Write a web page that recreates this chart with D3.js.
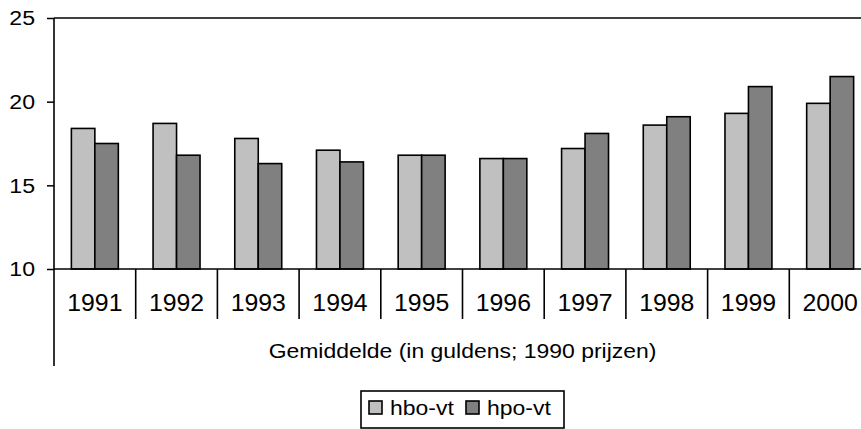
<!DOCTYPE html>
<html>
<head>
<meta charset="utf-8">
<script src="https://cdn.jsdelivr.net/npm/d3@7"></script>
<style>
  body { margin: 0; background: #fff; }
  svg { display: block; font-family: "Liberation Sans", Arial, sans-serif; }
  .axis path { display: none; }
  .axis line { stroke: #000; stroke-width: 1.5; }
  .axis text { fill: #000; }
</style>
</head>
<body>
<div id="chart"></div>
<script>
// chart values
var years = ["1991", "1992", "1993", "1994", "1995", "1996", "1997", "1998", "1999", "2000"];
var seriesNames = ["hbo-vt", "hpo-vt"];
var hboValues = [18.4, 18.7, 17.8, 17.1, 16.8, 16.6, 17.2, 18.6, 19.3, 19.9];
var hpoValues = [17.5, 16.8, 16.3, 16.4, 16.8, 16.6, 18.1, 19.1, 20.9, 21.5];
var yTicks = [10, 15, 20, 25];
var axisTitle = "Gemiddelde (in guldens; 1990 prijzen)";
var colors = ["#c0c0c0", "#808080"];

var svgWidth = 861;
var svgHeight = 429;

var plotLeft = 54;
var plotTop = 18;
var plotBottom = 269;
var catWidth = 81.7;

// the original text is a little stretched sideways
var stretch = 1.12;

var svg = d3.select("#chart")
    .append("svg")
    .attr("width", svgWidth)
    .attr("height", svgHeight);

// scales
var x0 = d3.scaleBand()
    .domain(years)
    .range([plotLeft, plotLeft + catWidth * years.length])
    .padding(0);

var x1 = d3.scaleBand()
    .domain(seriesNames)
    .range([0, x0.bandwidth()])
    .paddingInner(0)
    .paddingOuter(0.74);

var y = d3.scaleLinear()
    .domain([10, 25])
    .range([plotBottom, plotTop]);

var color = d3.scaleOrdinal().domain(seriesNames).range(colors);

var rows = years.map(function(yr, i) {
    return { year: yr, values: [
        { key: seriesNames[0], value: hboValues[i] },
        { key: seriesNames[1], value: hpoValues[i] }
    ]};
});

// bars
var groups = svg.selectAll("g.year")
    .data(rows)
    .enter()
    .append("g")
    .attr("class", "year")
    .attr("transform", d => `translate(${x0(d.year)},0)`);

groups.selectAll("rect")
    .data(d => d.values)
    .enter()
    .append("rect")
    .attr("x", d => x1(d.key))
    .attr("y", d => y(d.value))
    .attr("width", x1.bandwidth())
    .attr("height", d => y(10) - y(d.value))
    .attr("fill", d => color(d.key))
    .attr("stroke", "#000")
    .attr("stroke-width", 1.6);

// top border of the plot
svg.append("line")
    .attr("x1", plotLeft).attr("x2", svgWidth)
    .attr("y1", y(25)).attr("y2", y(25))
    .attr("stroke", "#000").attr("stroke-width", 1.6);

// y axis
var yAxis = d3.axisLeft(y)
    .tickValues(yTicks)
    .tickSize(7)
    .tickPadding(12);

svg.append("g")
    .attr("class", "axis")
    .attr("transform", `translate(${plotLeft},0)`)
    .call(yAxis)
    .selectAll("text")
    .style("font-size", "21px")
    .attr("x", -19 / 1.1)
    .attr("transform", "scale(1.1,1)");

// y axis line, running down past the category labels
svg.append("line")
    .attr("x1", plotLeft).attr("x2", plotLeft)
    .attr("y1", y(25)).attr("y2", 366)
    .attr("stroke", "#000").attr("stroke-width", 1.6);

// x axis line
svg.append("line")
    .attr("x1", plotLeft).attr("x2", x0.range()[1])
    .attr("y1", y(10)).attr("y2", y(10))
    .attr("stroke", "#000").attr("stroke-width", 1.6);

// category separators
svg.selectAll("line.sep")
    .data(years.slice(0, -1))
    .enter()
    .append("line")
    .attr("class", "sep")
    .attr("x1", d => x0(d) + x0.bandwidth())
    .attr("x2", d => x0(d) + x0.bandwidth())
    .attr("y1", y(10))
    .attr("y2", 319)
    .attr("stroke", "#000").attr("stroke-width", 1.6);

// category labels
var xAxis = d3.axisBottom(x0).tickSize(0).tickPadding(26);
svg.append("g")
    .attr("class", "axis")
    .attr("transform", `translate(0,${y(10)})`)
    .call(xAxis)
    .selectAll("text")
    .style("font-size", "23px")
    .attr("transform", "scale(1.08,1)");

// outer category title
svg.append("text")
    .attr("transform", `translate(${(x0.range()[0] + x0.range()[1]) / 2},358) scale(${stretch},1)`)
    .attr("text-anchor", "middle")
    .style("font-size", "20.5px")
    .text(axisTitle);

// legend
var legend = svg.append("g");
legend.append("rect")
    .attr("x", 361).attr("y", 391)
    .attr("width", 203).attr("height", 37)
    .attr("fill", "none").attr("stroke", "#000").attr("stroke-width", 1.6);

var legendX = [369, 466];
var items = legend.selectAll("g.item")
    .data(seriesNames)
    .enter()
    .append("g")
    .attr("class", "item")
    .attr("transform", (d, i) => `translate(${legendX[i]},401)`);

items.append("rect")
    .attr("width", 13).attr("height", 13)
    .attr("fill", d => color(d))
    .attr("stroke", "#000").attr("stroke-width", 1.6);

items.append("text")
    .attr("transform", `translate(21,14) scale(${stretch},1)`)
    .style("font-size", "20.5px")
    .text(d => d);
</script>
</body>
</html>
